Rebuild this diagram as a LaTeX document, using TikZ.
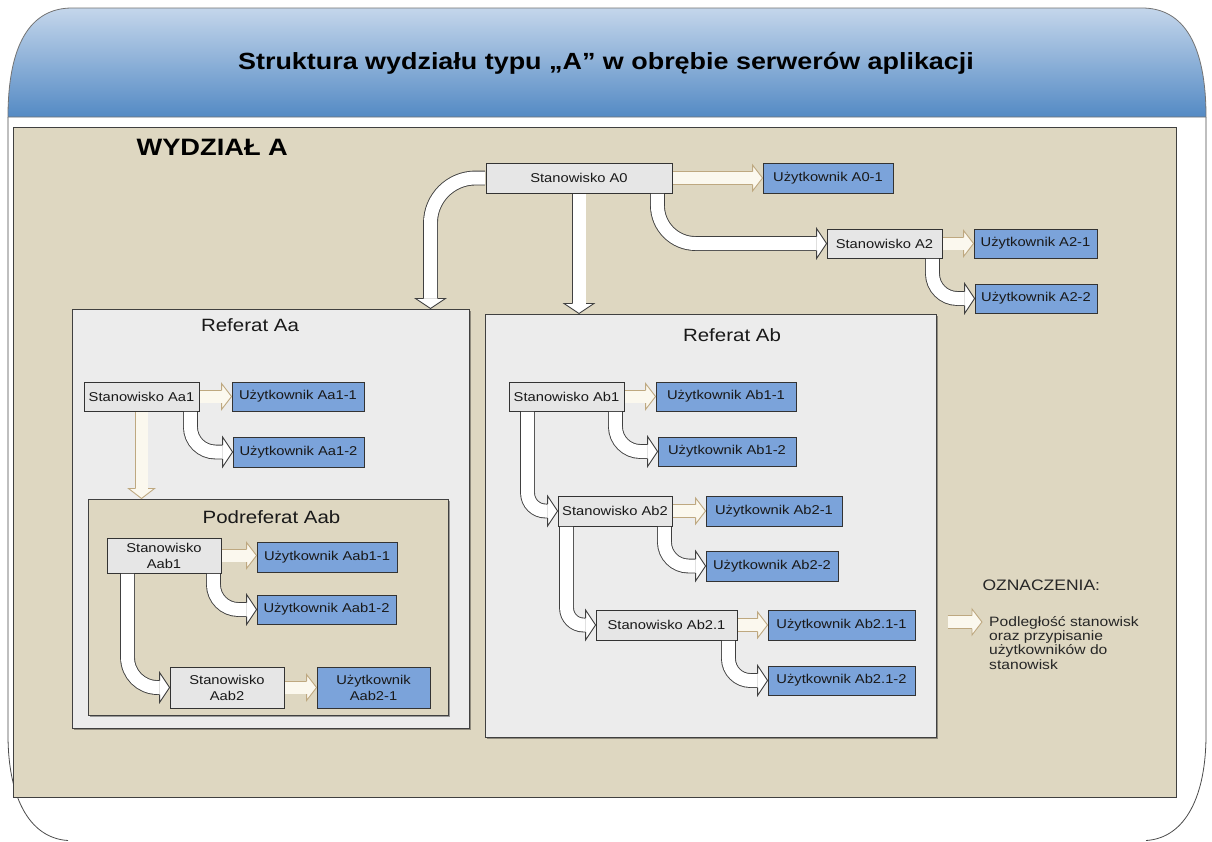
\documentclass[tikz,border=0pt]{standalone}
\usepackage{fontspec}
\setmainfont{Liberation Sans}[FakeStretch=1.15]
\usetikzlibrary{calc,shadows}
\definecolor{beige}{RGB}{222,215,193}
\definecolor{refgray}{RGB}{236,236,236}
\definecolor{stangray}{RGB}{230,230,230}
\definecolor{userblue}{RGB}{123,163,218}
\definecolor{headtop}{RGB}{196,214,235}
\definecolor{headbot}{RGB}{84,138,196}
\definecolor{tanline}{RGB}{190,168,128}
\definecolor{cream}{RGB}{251,248,238}
\tikzset{
  box/.style={draw=black!80, line width=0.9pt, inner sep=0pt, align=center,
    font=\fontsize{12.8}{16}\selectfont, text=black!90,
    drop shadow={shadow xshift=1.3pt, shadow yshift=-1.3pt, fill=black, opacity=0.35}},
  stan/.style={box, fill=stangray},
  user/.style={box, fill=userblue},
  refbox/.style={draw=black!75, line width=1pt, inner sep=0pt,
    drop shadow={shadow xshift=1.5pt, shadow yshift=-1.5pt, fill=black, opacity=0.35}},
  bshaft/.style={draw=black!75, line width=0.9pt, double=white, double distance=13pt, shorten <=0.5pt},
  pshaft/.style={draw=tanline, line width=0.9pt, double=cream, double distance=12pt, shorten <=0.5pt},
  reftitle/.style={font=\fontsize{17.8}{20}\selectfont, text=black!90},
  headR/.pic={
    \fill[white] (0,0) -- (-10,-15) -- (-10,15) -- cycle;
    \draw[black!75, line width=0.9pt] (-10,-7) -- (-10,-15) -- (0,0) -- (-10,15) -- (-10,7);
  },
  headD/.pic={
    \fill[white] (0,0) -- (-15,-10) -- (15,-10) -- cycle;
    \draw[black!75, line width=0.9pt] (-7,-10) -- (-15,-10) -- (0,0) -- (15,-10) -- (7,-10);
  },
  headRp/.pic={
    \fill[cream] (0,0) -- (-10,-13) -- (-10,13) -- cycle;
    \draw[tanline, line width=0.9pt] (-10,-6.5) -- (-10,-13) -- (0,0) -- (-10,13) -- (-10,6.5);
  },
  headDp/.pic={
    \fill[cream] (0,0) -- (-13,-10) -- (13,-10) -- cycle;
    \draw[tanline, line width=0.9pt] (-6.5,-10) -- (-13,-10) -- (0,0) -- (13,-10) -- (6.5,-10);
  },
}
\begin{document}
\begin{tikzpicture}[x=1pt, y=-1pt]
\useasboundingbox (0,0) rectangle (1212,841);
\fill[white] (0,0) rectangle (1212,841);
% outer frame
\draw[black!70, line width=0.8pt] (8,117) -- (8,735) .. controls (8,795) and (28,838) .. (68,840.5);
\draw[black!70, line width=0.8pt] (1206,117) -- (1206,735) .. controls (1206,795) and (1186,838) .. (1146,840.5);
% header
\shade[top color=headtop, bottom color=headbot, draw=black!55, line width=0.8pt]
  (8,117) .. controls (8,45) and (30,8) .. (72,8) -- (1142,8)
  .. controls (1184,8) and (1206,45) .. (1206,117) -- cycle;
\node[font=\bfseries\fontsize{23.4}{27}\selectfont] (title) at (606,63)
  {Struktura wydziału typu „A” w obrębie serwerów aplikacji};
% panel
\draw[fill=beige, draw=black!75, line width=1pt] (13,127) rectangle (1176,797);
\node[anchor=west, font=\bfseries\fontsize{23.7}{28}\selectfont] (wyd) at (133,147) {WYDZIAŁ A};

% Referat boxes
\node[refbox, fill=refgray, minimum width=397pt, minimum height=419pt] (refAa) at (270.5,518.5) {};
\node[reftitle] (tAa) at (250,325) {Referat Aa};
\node[refbox, fill=beige, minimum width=360pt, minimum height=216pt] (podAab) at (268,607) {};
\node[reftitle] (tAab) at (271.5,517) {Podreferat Aab};
\node[refbox, fill=refgray, minimum width=451pt, minimum height=423pt] (refAb) at (710.5,525.5) {};
\node[reftitle] (tAb) at (732,335) {Referat Ab};

% top nodes
\node[stan, minimum width=186pt, minimum height=30pt] (a0) at (579,178) {Stanowisko A0};
\node[user, minimum width=130pt, minimum height=30pt] (u01) at (828,178) {Użytkownik A0-1};
\node[stan, minimum width=115pt, minimum height=29pt] (a2) at (884.5,243.5) {Stanowisko A2};
\node[user, minimum width=123pt, minimum height=29pt] (u21) at (1035.5,243.5) {Użytkownik A2-1};
\node[user, minimum width=122pt, minimum height=29pt] (u22) at (1036,298.5) {Użytkownik A2-2};

% Referat Aa
\node[stan, minimum width=115pt, minimum height=29pt] (aa1) at (141.5,396.5) {Stanowisko Aa1};
\node[user, minimum width=132pt, minimum height=29pt] (uaa11) at (298,396.5) {Użytkownik Aa1-1};
\node[user, minimum width=131pt, minimum height=30pt] (uaa12) at (298.5,452) {Użytkownik Aa1-2};
\node[stan, minimum width=114pt, minimum height=35pt] (aab1) at (164,555.5) {Stanowisko\\Aab1};
\node[user, minimum width=140pt, minimum height=30pt] (uaab11) at (327,557) {Użytkownik Aab1-1};
\node[user, minimum width=139pt, minimum height=29pt] (uaab12) at (326.5,609.5) {Użytkownik Aab1-2};
\node[stan, minimum width=114pt, minimum height=41pt] (aab2) at (227,687.5) {Stanowisko\\Aab2};
\node[user, minimum width=113pt, minimum height=41pt] (uaab21) at (373.5,687.5) {Użytkownik\\Aab2-1};

% Referat Ab
\node[stan, minimum width=115pt, minimum height=29pt] (ab1) at (566.5,396.5) {Stanowisko Ab1};
\node[user, minimum width=140pt, minimum height=29pt] (uab11) at (726,396.5) {Użytkownik Ab1-1};
\node[user, minimum width=138pt, minimum height=29pt] (uab12) at (727,451.5) {Użytkownik Ab1-2};
\node[stan, minimum width=114pt, minimum height=30pt] (ab2) at (615,511) {Stanowisko Ab2};
\node[user, minimum width=136pt, minimum height=30pt] (uab21) at (774,511) {Użytkownik Ab2-1};
\node[user, minimum width=132pt, minimum height=30pt] (uab22) at (772,566) {Użytkownik Ab2-2};
\node[stan, minimum width=141pt, minimum height=30pt] (ab21) at (666.5,625) {Stanowisko Ab2.1};
\node[user, minimum width=147pt, minimum height=30pt] (uab211) at (841.5,625) {Użytkownik Ab2.1-1};
\node[user, minimum width=147pt, minimum height=29pt] (uab212) at (841.5,680.5) {Użytkownik Ab2.1-2};

% arrows top
\draw[bshaft, rounded corners=45pt] (a0.west) -| ($(refAa.north west)+(359,-10)$);
\pic at ($(refAa.north west)+(359,0)$) {headD};
\draw[bshaft] (a0.south) -- ($(a0.south |- refAb.north)+(0,-10)$);
\pic at (a0.south |- refAb.north) {headD};
\draw[bshaft, rounded corners=38pt] ($(a0.south east)+(-15,0)$) |- ($(a2.west)+(-10,0)$);
\pic at (a2.west) {headR};
\draw[pshaft] (a0.east) -- ($(u01.west)+(-10,0)$);
\pic at (u01.west) {headRp};
\draw[pshaft] (a2.east) -- ($(u21.west)+(-10,0)$);
\pic at (u21.west) {headRp};
\draw[bshaft, rounded corners=25pt] ($(a2.south east)+(-10,0)$) |- ($(u22.west)+(-10,0)$);
\pic at (u22.west) {headR};

% arrows Referat Aa
\draw[pshaft] (aa1.east) -- ($(uaa11.west)+(-10,0)$);
\pic at (uaa11.west) {headRp};
\draw[bshaft, rounded corners=25pt] ($(aa1.south east)+(-9,0)$) |- ($(uaa12.west)+(-10,0)$);
\pic at (uaa12.west) {headR};
\draw[pshaft] (aa1.south) -- ($(aa1.south |- podAab.north)+(0,-10)$);
\pic at (aa1.south |- podAab.north) {headDp};
\draw[pshaft] (aab1.east) -- ($(aab1.east -| uaab11.west)+(-10,0)$);
\pic at (aab1.east -| uaab11.west) {headRp};
\draw[bshaft, rounded corners=25pt] ($(aab1.south east)+(-8,0)$) |- ($(uaab12.west)+(-10,0)$);
\pic at (uaab12.west) {headR};
\draw[bshaft, rounded corners=30pt] ($(aab1.south west)+(21,0)$) |- ($(aab2.west)+(-10,0)$);
\pic at (aab2.west) {headR};
\draw[pshaft] (aab2.east) -- ($(uaab21.west)+(-10,0)$);
\pic at (uaab21.west) {headRp};

% arrows Referat Ab
\draw[pshaft] (ab1.east) -- ($(uab11.west)+(-10,0)$);
\pic at (uab11.west) {headRp};
\draw[bshaft, rounded corners=25pt] ($(ab1.south east)+(-9,0)$) |- ($(uab12.west)+(-10,0)$);
\pic at (uab12.west) {headR};
\draw[bshaft, rounded corners=18pt] ($(ab1.south west)+(19,0)$) |- ($(ab2.west)+(-10,0)$);
\pic at (ab2.west) {headR};
\draw[pshaft] (ab2.east) -- ($(uab21.west)+(-10,0)$);
\pic at (uab21.west) {headRp};
\draw[bshaft, rounded corners=24pt] ($(ab2.south east)+(-8,0)$) |- ($(uab22.west)+(-10,0)$);
\pic at (uab22.west) {headR};
\draw[bshaft, rounded corners=17pt] ($(ab2.south west)+(9,0)$) |- ($(ab21.west)+(-10,0)$);
\pic at (ab21.west) {headR};
\draw[pshaft] (ab21.east) -- ($(uab211.west)+(-10,0)$);
\pic at (uab211.west) {headRp};
\draw[bshaft, rounded corners=22pt] ($(ab21.south east)+(-9,0)$) |- ($(uab212.west)+(-10,0)$);
\pic at (uab212.west) {headR};

% legend
\node[anchor=west, font=\fontsize{15.2}{18}\selectfont, text=black!85] (ozn) at (979,585) {OZNACZENIA:};
\coordinate (lg1) at (947,622);
\coordinate (lg2) at (982,622);
\draw[pshaft] (lg1) -- ($(lg2)+(-10,0)$);
\pic at (lg2) {headRp};
\node[anchor=north west, align=left, inner sep=0pt, font=\fontsize{13.6}{14.3}\selectfont, text=black!85] (lgt) at (989,616)
  {Podległość stanowisk\\oraz przypisanie\\użytkowników do\\stanowisk};
\end{tikzpicture}
\end{document}
